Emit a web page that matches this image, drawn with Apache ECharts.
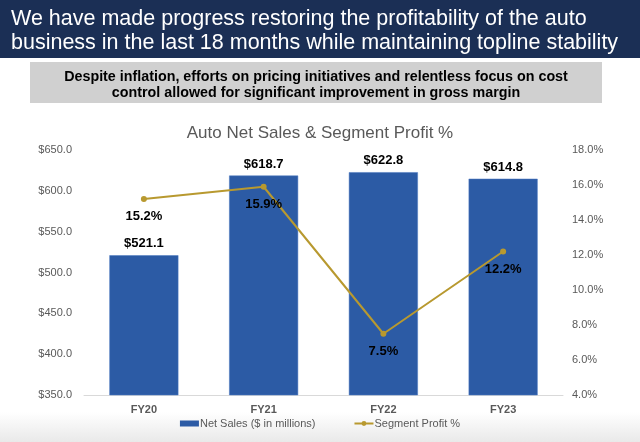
<!DOCTYPE html>
<html><head><meta charset="utf-8">
<script src="https://cdn.jsdelivr.net/npm/echarts@6/dist/echarts.min.js"></script>
<style>html,body{margin:0;padding:0;background:#fff}#c{width:640px;height:442px}</style>
</head><body><div id="c"></div>
<script>
const categories = ['FY20', 'FY21', 'FY22', 'FY23'];
const netSales = [521.1, 618.7, 622.8, 614.8];
const segmentProfit = [15.2, 15.9, 7.5, 12.2];
const headerLines = ['We have made progress restoring the profitability of the auto', 'business in the last 18 months while maintaining topline stability'];
const noteLines = ['Despite inflation, efforts on pricing initiatives and relentless focus on cost', 'control allowed for significant improvement in gross margin'];

const chart = echarts.init(document.getElementById('c'));
const F = '"Liberation Sans", Arial, sans-serif';
chart.setOption({
  animation: false,
  backgroundColor: '#fff',
  title: {
    text: 'Auto Net Sales & Segment Profit %',
    left: 'center', top: 120,
    textStyle: { fontFamily: F, fontSize: 17, fontWeight: 'normal', color: '#595959' }
  },
  graphic: [
    { type: 'rect', shape: { x: 0, y: 412, width: 640, height: 30 }, style: { fill: new echarts.graphic.LinearGradient(0, 0, 0, 1, [{ offset: 0, color: '#ffffff' }, { offset: 1, color: '#e9e9e9' }]) }, z: -1 },
    { type: 'rect', shape: { x: 0, y: 0, width: 640, height: 58 }, style: { fill: '#1b2f55' } },
    { type: 'text', left: 11, top: 7, style: { text: headerLines.join('\n'), fill: '#fff', font: '21.5px ' + F, lineHeight: 24 } },
    { type: 'rect', shape: { x: 30, y: 62, width: 572, height: 41 }, style: { fill: '#d0d0d0' } },
    { type: 'text', x: 316, y: 85, style: { text: noteLines.join('\n'), fill: '#000', font: 'bold 14.3px ' + F, lineHeight: 15.5, align: 'center', verticalAlign: 'middle' } }
  ],
  grid: { left: 84, right: 77, top: 150, bottom: 47 },
  legend: {
    bottom: 8, left: 'center', itemGap: 38, itemWidth: 19, itemHeight: 6,
    textStyle: { fontFamily: F, fontSize: 11, color: '#595959', padding: [0, 0, 0, -4] },
    data: [
      { name: 'Net Sales ($ in millions)', icon: 'rect', itemStyle: { borderWidth: 0 } },
      { name: 'Segment Profit %' }
    ]
  },
  xAxis: {
    type: 'category', data: categories,
    axisLine: { lineStyle: { color: '#d9d9d9' } },
    axisTick: { show: false },
    axisLabel: { fontFamily: F, fontSize: 11, fontWeight: 'bold', color: '#595959', margin: 9 }
  },
  yAxis: [
    { type: 'value', min: 350, max: 650, interval: 50, splitLine: { show: false },
      axisLabel: { fontFamily: F, fontSize: 11, color: '#595959', margin: 12, formatter: v => '$' + v.toFixed(1) } },
    { type: 'value', min: 4, max: 18, interval: 2, splitLine: { show: false },
      axisLabel: { fontFamily: F, fontSize: 11, color: '#595959', margin: 9, formatter: v => v.toFixed(1) + '%' } }
  ],
  series: [
    { name: 'Net Sales ($ in millions)', type: 'bar', data: netSales, barWidth: 69,
      itemStyle: { color: '#2c5ba5', borderColor: '#4a78c0', borderWidth: 0.5 },
      label: { show: true, position: 'top', distance: 5, fontFamily: F, fontSize: 13, fontWeight: 'bold', color: '#000', formatter: p => '$' + p.value.toFixed(1) } },
    { name: 'Segment Profit %', type: 'line', yAxisIndex: 1, data: segmentProfit,
      symbol: 'circle', symbolSize: 6,
      lineStyle: { color: '#b8992f', width: 2 }, itemStyle: { color: '#b8992f' },
      label: { show: true, position: 'bottom', distance: 8, fontFamily: F, fontSize: 13, fontWeight: 'bold', color: '#000', formatter: p => p.value.toFixed(1) + '%' } }
  ]
});
</script></body></html>
